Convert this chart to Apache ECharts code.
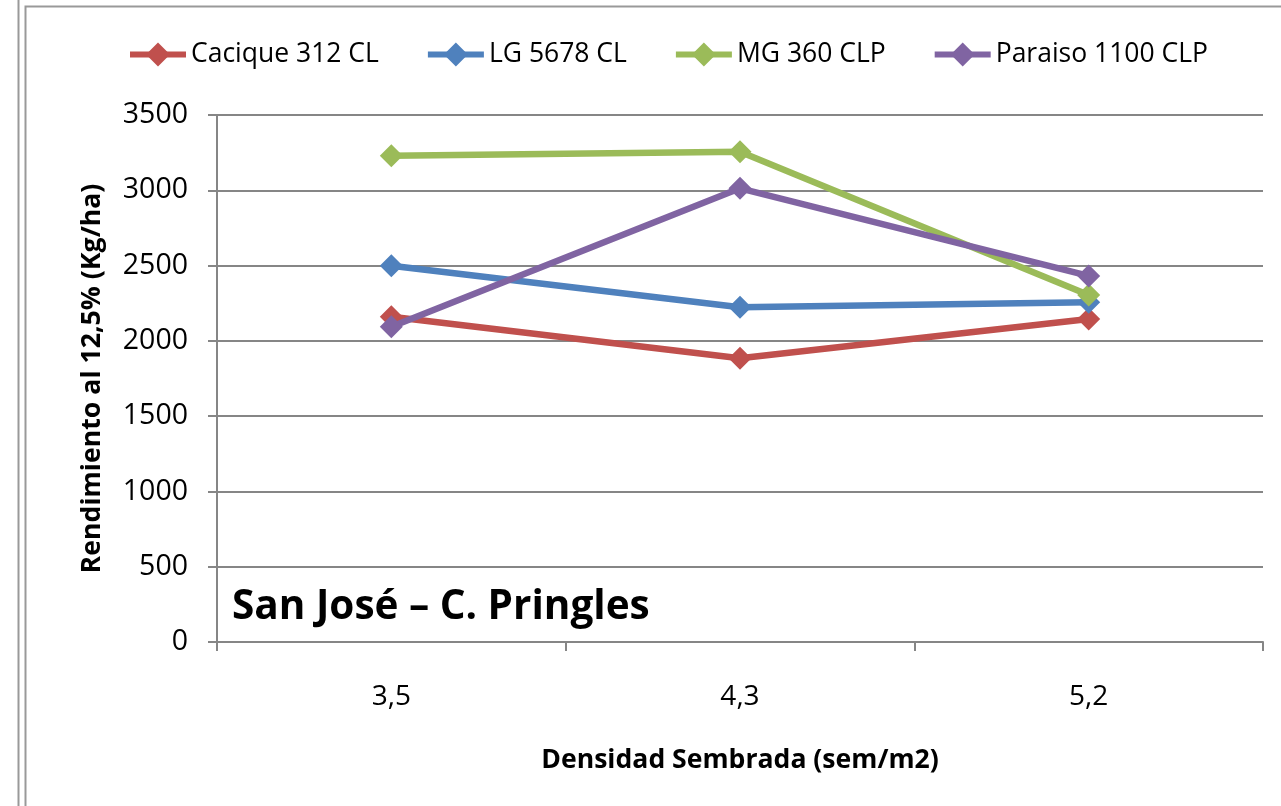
<!DOCTYPE html>
<html><head><meta charset="utf-8">
<script src="https://cdn.jsdelivr.net/npm/echarts@6/dist/echarts.min.js"></script>
<style>html,body{margin:0;padding:0;background:#fff}#c{width:1281px;height:806px}</style>
</head><body><div id="c"></div>
<script>
const categories = ['3,5', '4,3', '5,2'];
const cacique = [2160, 1884, 2145];
const lg5678 = [2499, 2223, 2256];
const mg360 = [3230, 3256, 2305];
const paraiso = [2094, 3013, 2431];
const seriesNames = ['Cacique 312 CL', 'LG 5678 CL', 'MG 360 CLP', 'Paraiso 1100 CLP'];
const colors = ['#C0504D', '#4F81BD', '#9BBB59', '#8064A2'];
const F = '"Open Sans", sans-serif';
const chart = echarts.init(document.getElementById('c'));
const mk = (name, data, i) => ({
  name, type: 'line', data, symbol: 'diamond', symbolSize: 23,
  lineStyle: { width: 6.5, color: colors[i] }, itemStyle: { color: colors[i] }, z: 2 + i
});
chart.setOption({
  animation: false,
  color: colors,
  grid: { left: 217, right: 18, top: 115, bottom: 164 },
  legend: {
    top: 41, left: 127, padding: 0, itemWidth: 56, itemHeight: 30, itemGap: 46,
    lineStyle: { width: 6 },
    textStyle: { fontFamily: F, fontSize: 26.5, color: '#000' },
    data: seriesNames
  },
  xAxis: {
    type: 'category', data: categories, boundaryGap: true,
    name: 'Densidad Sembrada (sem/m2)', nameLocation: 'middle', nameGap: 105,
    nameTextStyle: { fontFamily: F, fontSize: 26.6, fontWeight: 'bold', color: '#000' },
    axisLine: { lineStyle: { color: '#868686', width: 2 } },
    axisTick: { show: true, length: 9, lineStyle: { color: '#868686', width: 2 } },
    axisLabel: { fontFamily: F, fontSize: 28, color: '#000', margin: 41 }
  },
  yAxis: {
    type: 'value', min: 0, max: 3500, interval: 500,
    name: 'Rendimiento al 12,5% (Kg/ha)', nameLocation: 'middle', nameGap: 111,
    nameTextStyle: { fontFamily: F, fontSize: 26.7, fontWeight: 'bold', color: '#000' },
    axisLine: { show: true, lineStyle: { color: '#868686', width: 2 } },
    axisTick: { show: true, length: 9, lineStyle: { color: '#868686', width: 2 } },
    splitLine: { lineStyle: { color: '#868686', width: 2 } },
    axisLabel: { fontFamily: F, fontSize: 28.5, color: '#000', margin: 29, formatter: v => String(v) }
  },
  graphic: [
    { type: 'line', shape: { x1: 18.5, y1: 0, x2: 18.5, y2: 806 }, style: { stroke: '#999', lineWidth: 2 } },
    { type: 'rect', shape: { x: 25.5, y: 6.5, width: 1300, height: 900 }, style: { stroke: '#999', lineWidth: 2, fill: 'none' } },
    { type: 'text', left: 232, top: 587, z: 100,
      style: { text: 'San José – C. Pringles', fontFamily: F, fontSize: 40.5, fontWeight: 'bold', fill: '#000' } }
  ],
  series: [mk(seriesNames[0], cacique, 0), mk(seriesNames[1], lg5678, 1), mk(seriesNames[2], mg360, 2), mk(seriesNames[3], paraiso, 3)]
});
</script></body></html>
